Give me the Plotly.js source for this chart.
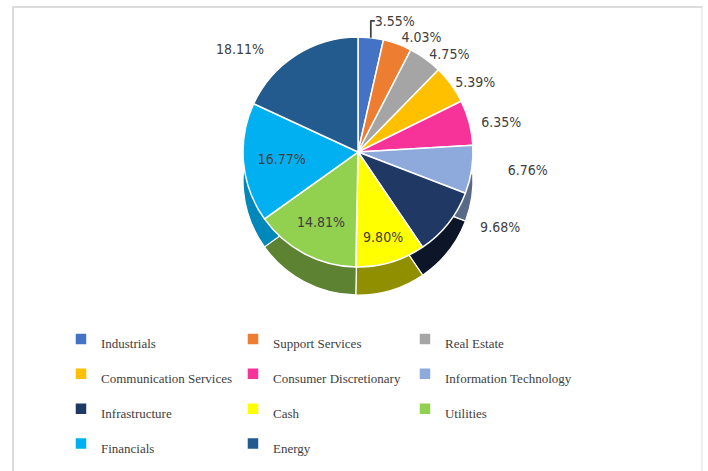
<!DOCTYPE html>
<html>
<head>
<meta charset="utf-8">
<script src="https://cdn.plot.ly/plotly-3.0.1.min.js"></script>
<style>
  html, body { margin: 0; padding: 0; background: #fff; }
  #frame { position: absolute; left: 12px; top: 6px; width: 691px; height: 470px; border: 2px solid #dcdcdc; border-right-color: #eeeeee; border-bottom: none; box-sizing: border-box; }
  #chart { position: absolute; left: 0; top: 0; width: 708px; height: 471px; }
</style>
</head>
<body>
<div id="frame"></div>
<div id="chart"></div>
<script>
const categories = ["Industrials", "Support Services", "Real Estate", "Communication Services",
  "Consumer Discretionary", "Information Technology", "Infrastructure", "Cash",
  "Utilities", "Financials", "Energy"];
const shares = [3.55, 4.03, 4.75, 5.39, 6.35, 6.76, 9.68, 9.80, 14.81, 16.77, 18.11];
const sliceColors = ["#4472C4", "#ED7D31", "#A5A5A5", "#FFC000", "#F7339A", "#8EA9DB",
  "#1F3864", "#FFFF00", "#92D050", "#00B0F0", "#245B8F"];
const sideColors = ["#2A477A", "#94501F", "#676767", "#A07800", "#9A2060", "#596A89",
  "#0C1628", "#8F8F00", "#5C8232", "#0088BB", "#163859"];
const labelPositions = ["outside", "outside", "outside", "outside", "outside", "outside",
  "outside", "inside", "inside", "inside", "outside"];

const labelFont = "DejaVu Sans Condensed, Liberation Sans Narrow, sans-serif";
const legendLabels = categories.map(c => '<span style="font-size:13px">' + c + '</span>');
const pad = n => "\u00A0".repeat(n);
// label templates: non-breaking spaces keep outside labels clear of the pie's side
const labelTemplates = shares.map((v, i) => {
  const base = "%{value:.2f}%";
  if (i === 5) return pad(8) + base;
  if (i === 6) return pad(7) + base;
  if (i === 4) return pad(2) + base;
  if (i === 10) return base + pad(7);
  return base;
});

// side (depth) of the pie, drawn behind the top face
const sideTrace = {
  type: "pie",
  labels: categories,
  values: shares,
  sort: false,
  direction: "clockwise",
  rotation: 0,
  marker: { colors: sideColors, line: { color: "#ffffff", width: 1.2 } },
  textinfo: "none",
  hoverinfo: "skip",
  showlegend: false,
  domain: { x: [0.3997, 0.7780], y: [0.3737, 0.8620] }
};

const topTrace = {
  type: "pie",
  labels: legendLabels,
  values: shares,
  sort: false,
  direction: "clockwise",
  rotation: 0,
  marker: { colors: sliceColors, line: { color: "#ffffff", width: 1.5 } },
  texttemplate: labelTemplates,
  textinfo: "text",
  textposition: labelPositions,
  insidetextorientation: "horizontal",
  textfont: { family: labelFont, size: 14, color: "#404040" },
  outsidetextfont: { family: labelFont, size: 14, color: "#404040" },
  insidetextfont: { family: labelFont, size: 14, color: "#404040" },
  hoverinfo: "value",
  domain: { x: [0.3997, 0.7780], y: [0.4331, 0.9214] }
};

const layout = {
  width: 708,
  height: 471,
  margin: { l: 0, r: 100, t: 0, b: 0 },
  paper_bgcolor: "rgba(0,0,0,0)",
  plot_bgcolor: "rgba(0,0,0,0)",
  showlegend: true,
  legend: {
    orientation: "h",
    x: 0.1003, xanchor: "left",
    y: 0.328, yanchor: "top",
    entrywidth: 127, entrywidthmode: "pixels",
    itemwidth: 30,
    traceorder: "normal",
    font: { family: "Liberation Serif, DejaVu Serif, serif", size: 24.5, color: "#404040" },
    bgcolor: "rgba(0,0,0,0)"
  }
};

Plotly.newPlot("chart", [sideTrace, topTrace], layout, { displayModeBar: false, staticPlot: true });
</script>
</body>
</html>
